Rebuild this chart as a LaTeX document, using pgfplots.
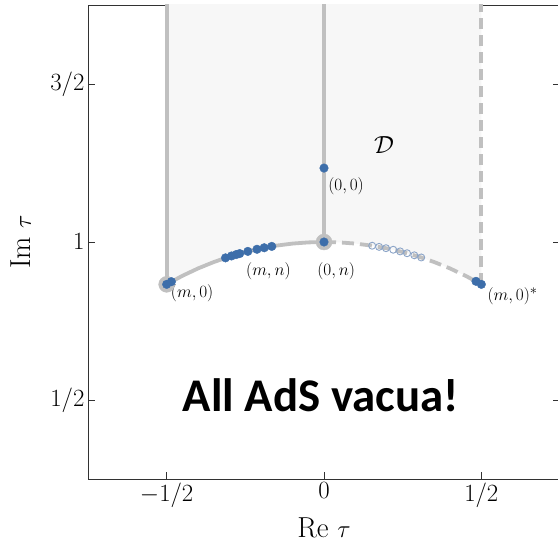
\documentclass[border=0pt]{standalone}
\usepackage{fontspec}
\usepackage{pgfplots}
\pgfplotsset{compat=1.18}
\newfontfamily\calibri{Carlito}
\definecolor{bnd}{RGB}{192,192,192}
\definecolor{dom}{RGB}{247,247,247}
\definecolor{dotb}{RGB}{61,110,170}
\definecolor{hol}{RGB}{140,165,200}
\definecolor{axc}{RGB}{50,50,50}
\begin{document}
\begin{tikzpicture}
\begin{axis}[name=ax,
  scale only axis, width=472bp, height=474bp,
  xmin=-0.75, xmax=0.75, ymin=0.25, ymax=1.75,
  axis line style={axc, line width=0.9bp},
  tick style={axc, line width=0.9bp},
  tick align=inside, major tick length=7bp,
  xtick={-0.5,0,0.5}, xticklabels={$-1/2$,$0$,$1/2$},
  ytick={0.5,1,1.5}, yticklabels={$1/2$,$1$,$3/2$},
  tick label style={font=\fontsize{29}{32}\selectfont},
  xlabel={$\mathrm{Re}\ \tau$}, ylabel={$\mathrm{Im}\ \tau$},
  label style={font=\fontsize{29}{32}\selectfont},
  xlabel style={at={(axis description cs:0.5,-0.103)}, anchor=center},
  ylabel style={at={(axis description cs:-0.142,0.5)}, anchor=center},
  clip=true,
]
% fundamental domain shading
\addplot[draw=none, fill=dom] coordinates {
 (-0.5,1.8) (-0.5,0.8660) (-0.45,0.8930) (-0.4,0.9165) (-0.35,0.9367) (-0.3,0.9539)
 (-0.25,0.9682) (-0.2,0.9798) (-0.15,0.9887) (-0.1,0.9950) (-0.05,0.9987) (0,1)
 (0.05,0.9987) (0.1,0.9950) (0.15,0.9887) (0.2,0.9798) (0.25,0.9682) (0.3,0.9539)
 (0.35,0.9367) (0.4,0.9165) (0.45,0.8930) (0.5,0.8660) (0.5,1.8)} -- cycle;
% boundaries
\addplot[bnd, line width=3.8bp] coordinates {
 (-0.5,0.8660) (-0.45,0.8930) (-0.4,0.9165) (-0.35,0.9367) (-0.3,0.9539)
 (-0.25,0.9682) (-0.2,0.9798) (-0.15,0.9887) (-0.1,0.9950) (-0.05,0.9987) (0,1)};
\addplot[bnd, line width=3.8bp, dash pattern=on 12bp off 6bp] coordinates {
 (0,1) (0.05,0.9987) (0.1,0.9950) (0.15,0.9887) (0.2,0.9798) (0.25,0.9682) (0.3,0.9539)
 (0.35,0.9367) (0.4,0.9165) (0.45,0.8930) (0.5,0.8660)};
\addplot[bnd, line width=3.8bp] coordinates {(-0.5,0.8660) (-0.5,1.8)};
\addplot[bnd, line width=3.8bp] coordinates {(0,1) (0,1.8)};
\addplot[bnd, line width=3.8bp, dash pattern=on 11bp off 6bp] coordinates {(0.5,0.8660) (0.5,1.8)};
% halos
\addplot[only marks, mark=*, mark size=8bp, color=bnd] coordinates {(-0.5,0.8660) (0,1)};
% hollow points
\addplot[only marks, mark=o, mark size=3.5bp, color=hol, line width=0.9bp] coordinates {
 (0.153,0.9882) (0.175,0.9846) (0.197,0.9804) (0.220,0.9755) (0.242,0.9703)
 (0.264,0.9645) (0.287,0.9579) (0.309,0.9511)};
% filled points
\addplot[only marks, mark=*, mark size=4.3bp, color=dotb] coordinates {
 (-0.5,0.8660) (-0.485,0.8745)
 (-0.313,0.9498) (-0.294,0.9558) (-0.279,0.9603) (-0.268,0.9634) (-0.242,0.9703)
 (-0.213,0.9770) (-0.190,0.9818) (-0.166,0.9861)
 (0,1) (0,1.234)
 (0.483,0.8756) (0.5,0.8660)};
% labels
\node[anchor=north west, inner sep=0, font=\fontsize{19}{21}\selectfont] at (axis cs:-0.487,0.866) {$(m,0)$};
\node[anchor=north west, inner sep=0, font=\fontsize{19}{21}\selectfont] at (axis cs:-0.248,0.936) {$(m,n)$};
\node[anchor=north west, inner sep=0, font=\fontsize{19}{21}\selectfont] at (axis cs:-0.022,0.936) {$(0,n)$};
\node[anchor=north west, inner sep=0, font=\fontsize{19}{21}\selectfont] at (axis cs:0.013,1.205) {$(0,0)$};
\node[anchor=north west, inner sep=0, font=\fontsize{19}{21}\selectfont] at (axis cs:0.519,0.856) {$(m,0)^{*}$};
\node[font=\fontsize{26}{28}\selectfont] at (axis cs:0.191,1.307) {$\mathcal{D}$};
\node[font=\calibri\bfseries\fontsize{47}{50}\selectfont] at (axis cs:-0.01,0.516) {All AdS vacua!};
\end{axis}
\pgfresetboundingbox
\useasboundingbox ([shift={(-88bp,-64bp)}]ax.south west) rectangle ([shift={(-2bp,5bp)}]ax.north east);
\end{tikzpicture}
\end{document}
